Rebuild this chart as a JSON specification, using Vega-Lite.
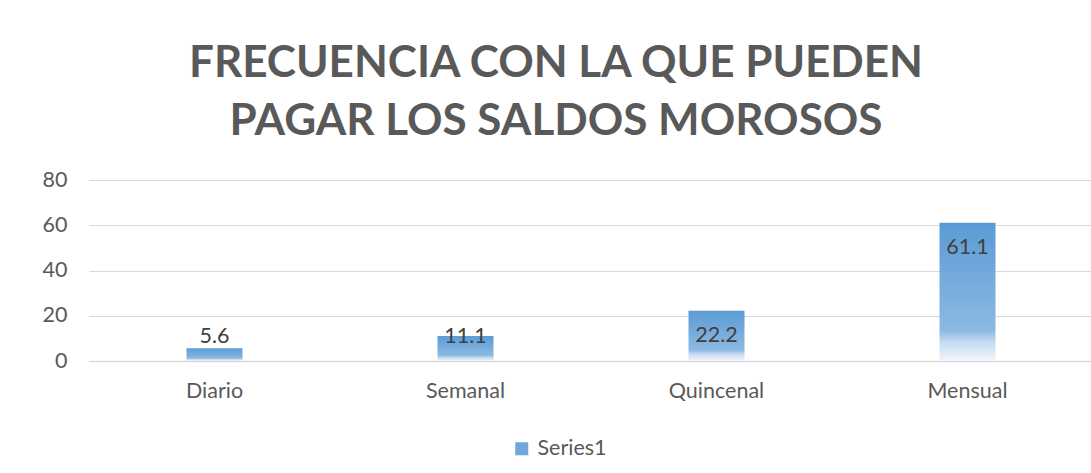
{
  "$schema": "https://vega.github.io/schema/vega-lite/v6.json",
  "autosize": "none",
  "width": 1004,
  "height": 181,
  "padding": {"left": 89, "top": 180, "right": 0, "bottom": 112},
  "background": "white",
  "config": {
    "view": {"stroke": null},
    "font": "Lato"
  },
  "title": {
    "text": ["FRECUENCIA CON LA QUE PUEDEN", "PAGAR LOS SALDOS MOROSOS"],
    "anchor": "middle",
    "frame": "group",
    "dx": -35,
    "offset": 25,
    "font": "Lato",
    "fontSize": 44,
    "fontWeight": "bold",
    "color": "#595959",
    "lineHeight": 58
  },
  "data": {
    "values": [
      {"category": "Diario", "value": 5.6, "series": "Series1"},
      {"category": "Semanal", "value": 11.1, "series": "Series1"},
      {"category": "Quincenal", "value": 22.2, "series": "Series1"},
      {"category": "Mensual", "value": 61.1, "series": "Series1"}
    ]
  },
  "encoding": {
    "x": {
      "field": "category",
      "type": "nominal",
      "sort": null,
      "scale": {"paddingInner": 0, "paddingOuter": 0},
      "axis": {
        "title": null,
        "labelAngle": 0,
        "labelFontSize": 21.5,
        "labelColor": "#595959",
        "labelPadding": 19,
        "ticks": false,
        "domainColor": "#D9D9D9",
        "domainWidth": 1.5
      }
    },
    "y": {
      "field": "value",
      "type": "quantitative",
      "scale": {"domain": [0, 80]},
      "axis": {
        "title": null,
        "values": [0, 20, 40, 60, 80],
        "labelFontSize": 21.5,
        "labelColor": "#595959",
        "labelPadding": 22,
        "ticks": false,
        "domain": false,
        "gridColor": "#D9D9D9",
        "gridWidth": 1
      }
    }
  },
  "layer": [
    {
      "mark": {"type": "bar", "size": 56, "opacity": 0},
      "encoding": {
        "color": {
          "field": "series",
          "type": "nominal",
          "scale": {"range": ["#6FA7DA"]},
          "legend": {
            "title": null,
            "orient": "none",
            "legendX": 422,
            "legendY": 258,
            "symbolType": "square",
            "symbolSize": 170,
            "symbolStrokeWidth": 0,
            "symbolOpacity": 1,
            "labelFontSize": 21.5,
            "labelColor": "#595959",
            "labelOffset": 5
          }
        }
      }
    },
    {
      "mark": {
        "type": "bar",
        "size": 56,
        "color": {
          "gradient": "linear",
          "x1": 0, "y1": 0, "x2": 0, "y2": 1,
          "stops": [
            {"offset": 0, "color": "#5B9BD5"},
            {"offset": 0.78, "color": "#8DB9E2"},
            {"offset": 0.86, "color": "#C3D9EF"},
            {"offset": 1, "color": "#F2F6FB"}
          ]
        }
      }
    },
    {
      "transform": [{"filter": "datum.value >= 15"}],
      "mark": {"type": "text", "dy": 25, "baseline": "middle", "fontSize": 21.5, "color": "#404040"},
      "encoding": {
        "text": {"field": "value", "type": "quantitative", "format": ".1f"}
      }
    },
    {
      "transform": [{"filter": "datum.value < 15"}],
      "mark": {"type": "text", "baseline": "middle", "fontSize": 21.5, "color": "#404040"},
      "encoding": {
        "y": {"datum": 10.6, "type": "quantitative"},
        "text": {"field": "value", "type": "quantitative", "format": ".1f"}
      }
    }
  ]
}
